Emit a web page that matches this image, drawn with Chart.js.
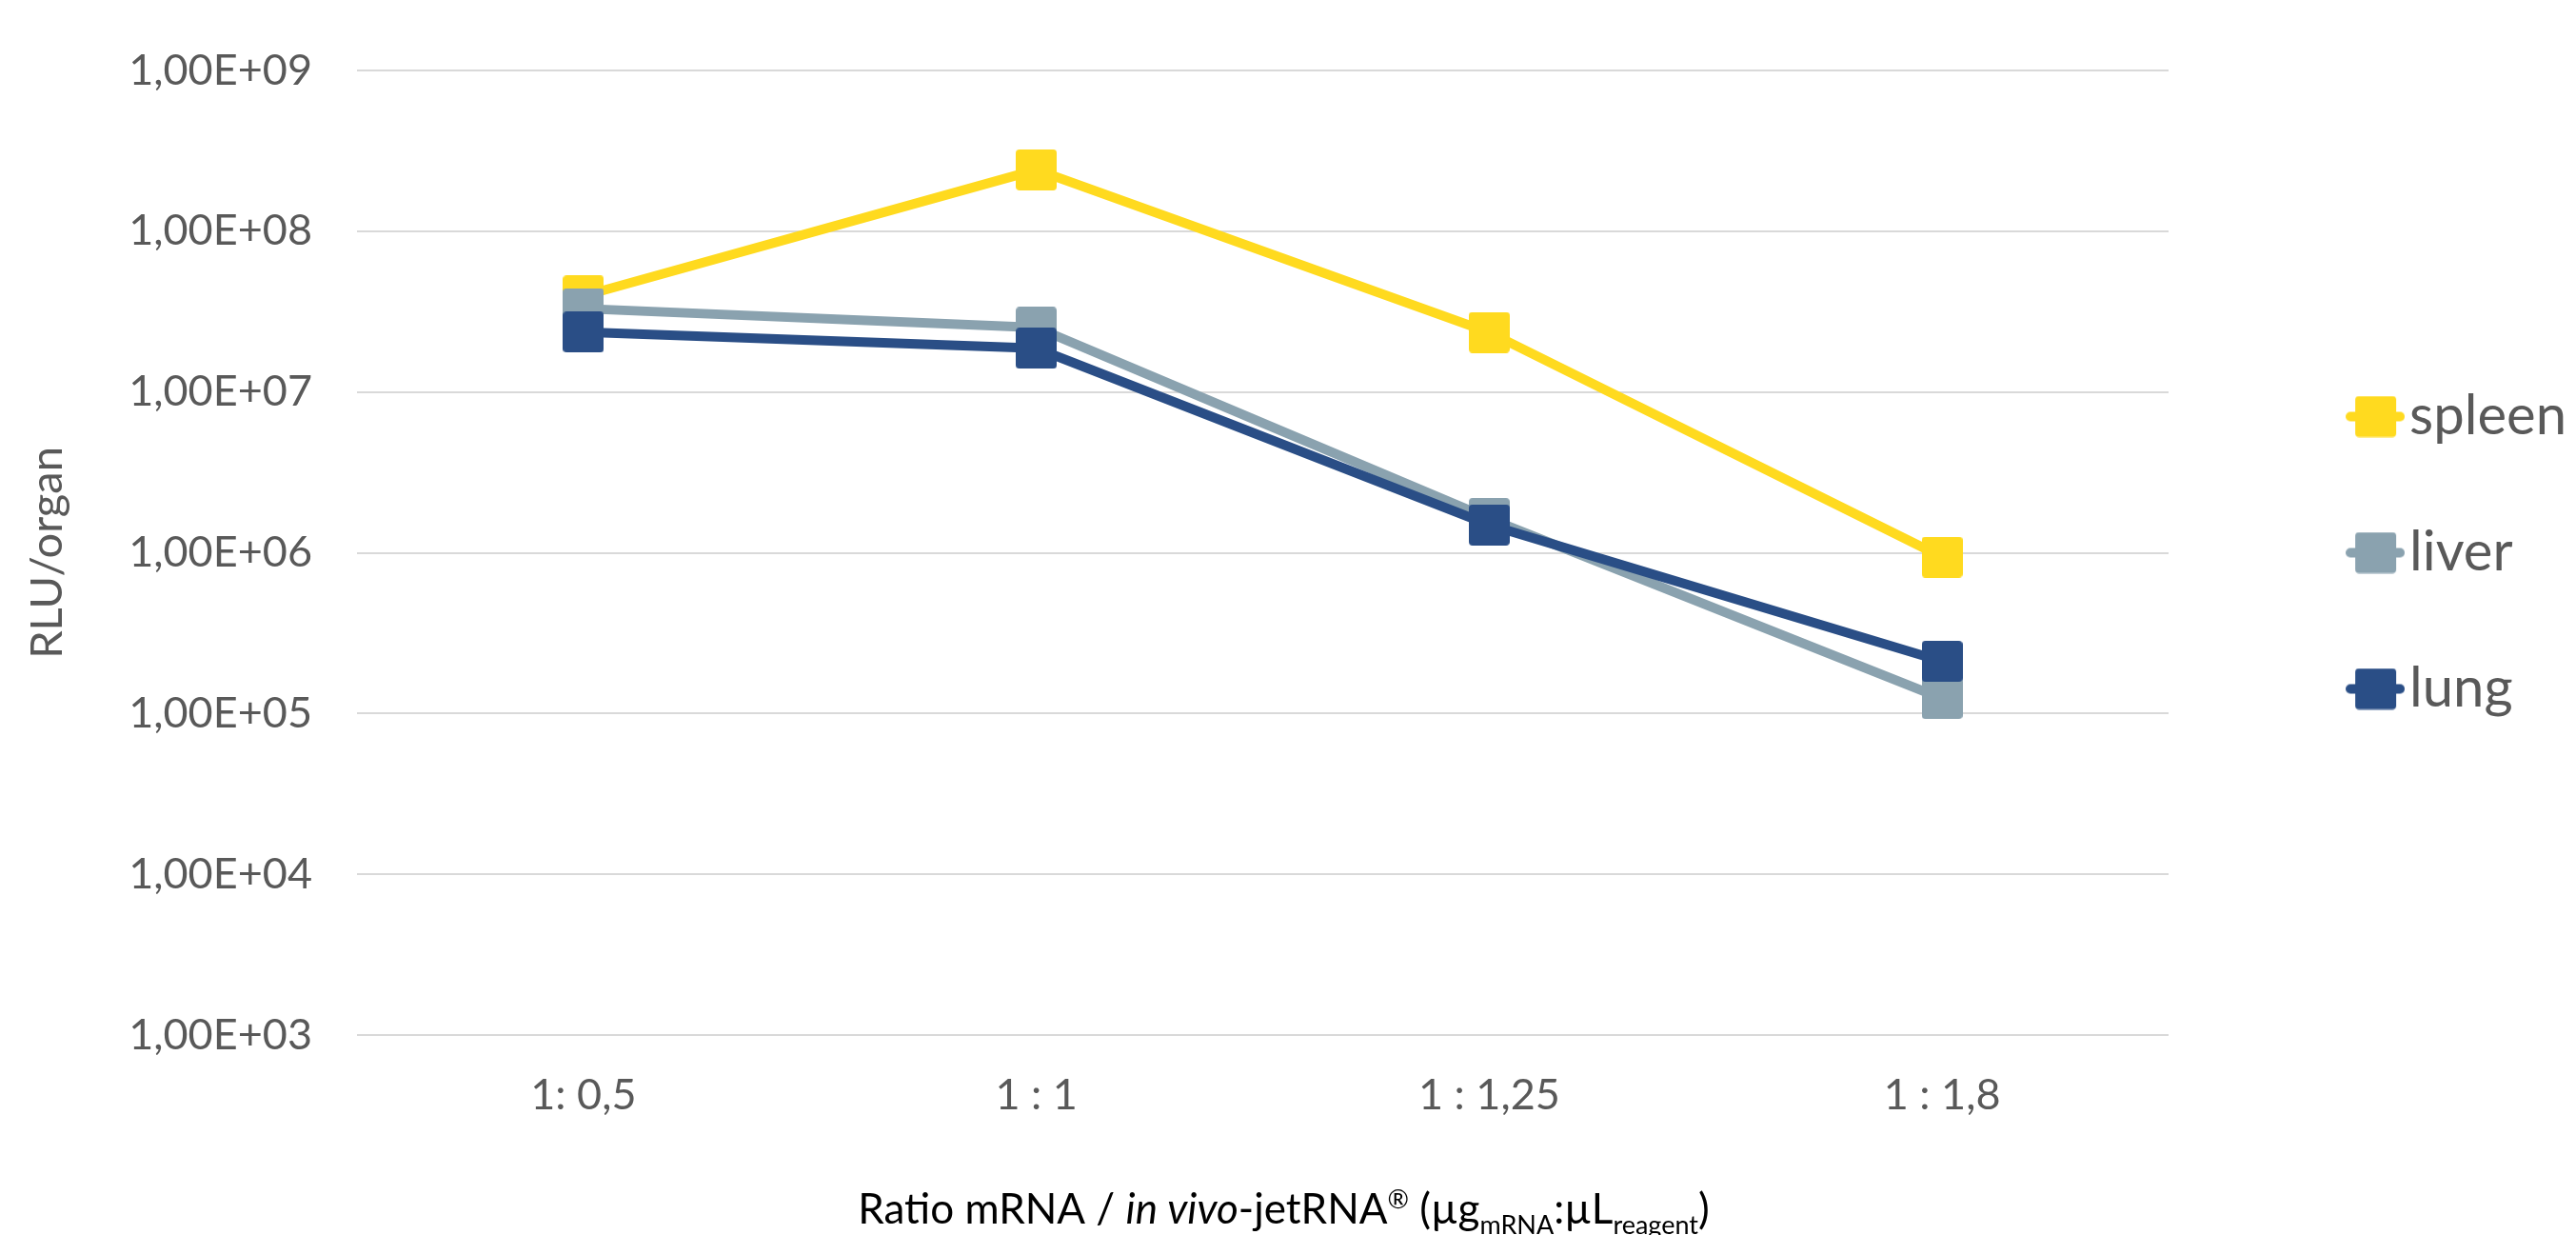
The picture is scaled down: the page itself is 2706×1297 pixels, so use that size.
<!DOCTYPE html>
<html lang="en">
<head>
<meta charset="utf-8">
<title>RLU per organ</title>
<style>
  html, body { margin: 0; padding: 0; background: #fff; }
  #wrap { width: 2706px; height: 1297px; }
</style>
</head>
<body>
<div id="wrap"><canvas id="myChart"></canvas></div>

<script src="https://cdn.jsdelivr.net/npm/chart.js"></script>
<script>
  // values
  const categories = ['1: 0,5', '1 : 1', '1 : 1,25', '1 : 1,8'];
  const seriesNames = ['spleen', 'liver', 'lung'];
  const spleen = [3.96e7, 2.41e8, 2.35e7, 9.4e5];
  const liver  = [3.30e7, 2.52e7, 1.63e6, 1.24e5];
  const lung   = [2.36e7, 1.87e7, 1.49e6, 2.11e5];
  const yTicks = [1e3, 1e4, 1e5, 1e6, 1e7, 1e8, 1e9];

  const colors = ['#FFDA1F', '#8AA2AF', '#2A4E86'];
  const FONT = 'Lato';
  const LEGEND_SIZE = 58;

  function sci(v) {
    const e = Math.round(Math.log10(v));
    const m = v / Math.pow(10, e);
    return m.toFixed(2).replace('.', ',') + 'E' + (e >= 0 ? '+' : '-') + String(Math.abs(e)).padStart(2, '0');
  }

  function roundRect(g, x, y, w, h, r) {
    g.beginPath();
    g.moveTo(x + r, y);
    g.lineTo(x + w - r, y);
    g.quadraticCurveTo(x + w, y, x + w, y + r);
    g.lineTo(x + w, y + h - r);
    g.quadraticCurveTo(x + w, y + h, x + w - r, y + h);
    g.lineTo(x + r, y + h);
    g.quadraticCurveTo(x, y + h, x, y + h - r);
    g.lineTo(x, y + r);
    g.quadraticCurveTo(x, y, x + r, y);
    g.closePath();
  }

  // square marker used on the lines
  function markerImg(color) {
    const c = document.createElement('canvas');
    c.width = 43; c.height = 43;
    const g = c.getContext('2d');
    g.fillStyle = color;
    roundRect(g, 0, 0, 43, 43, 4);
    g.fill();
    return c;
  }

  // marker + short line for the legend
  function legendImg(color) {
    const c = document.createElement('canvas');
    c.width = 62; c.height = 44;
    const g = c.getContext('2d');
    g.strokeStyle = color;
    g.lineWidth = 10;
    g.lineCap = 'round';
    g.beginPath();
    g.moveTo(5, 22);
    g.lineTo(57, 22);
    g.stroke();
    g.fillStyle = color;
    roundRect(g, 10, 0.5, 43, 43, 4);
    g.fill();
    return c;
  }

  const markers = colors.map(markerImg);
  const legendMarkers = colors.map(legendImg);
  const values = [spleen, liver, lung];

  // rich x axis title (italic part, superscript, subscripts)
  const xTitleRuns = [
    {t: 'Ratio mRNA / ', s: 'n'},
    {t: 'in vivo', s: 'i'},
    {t: '-jetRNA', s: 'n'},
    {t: '®', s: 'sup'},
    {t: ' (µg', s: 'n'},
    {t: 'mRNA', s: 'sub'},
    {t: ':µL', s: 'n'},
    {t: 'reagent', s: 'sub'},
    {t: ')', s: 'n'}
  ];

  const xTitlePlugin = {
    id: 'xTitle',
    afterDraw(chart) {
      const ctx = chart.ctx;
      const xs = chart.scales.x;
      const size = 44;
      const fontOf = (s) => {
        if (s === 'i') return 'italic ' + size + 'px ' + FONT;
        if (s === 'sup' || s === 'sub') return Math.round(size * 0.62) + 'px ' + FONT;
        return size + 'px ' + FONT;
      };
      ctx.save();
      let total = 0;
      xTitleRuns.forEach(r => { ctx.font = fontOf(r.s); r.w = ctx.measureText(r.t).width; total += r.w; });
      const area = chart.chartArea;
      let x = (area.left + area.right) / 2 + 22 - total / 2;
      const base = xs.top + 198;
      ctx.fillStyle = '#000000';
      ctx.textBaseline = 'alphabetic';
      ctx.textAlign = 'left';
      xTitleRuns.forEach(r => {
        ctx.font = fontOf(r.s);
        let y = base;
        if (r.s === 'sup') y = base - size * 0.36;
        if (r.s === 'sub') y = base + size * 0.24;
        ctx.fillText(r.t, x, y);
        x += r.w;
      });
      ctx.restore();
    }
  };

  const ctx = document.getElementById('myChart');

  const chart = new Chart(ctx, {
    type: 'line',
    data: {
      labels: categories,
      datasets: seriesNames.map((name, i) => ({
        label: name,
        data: values[i],
        borderColor: colors[i],
        backgroundColor: colors[i],
        borderWidth: 10,
        pointStyle: markers[i],
        pointRadius: 21,
        pointHoverRadius: 21,
        tension: 0,
        order: 3 - i
      }))
    },
    plugins: [xTitlePlugin],
    options: {
      responsive: true,
      maintainAspectRatio: false,
      animation: false,
      layout: { padding: { top: 72, left: 18, right: 0, bottom: 0 } },
      plugins: {
        tooltip: { enabled: false },
        legend: {
          position: 'right',
          fullSize: false,
          labels: {
            usePointStyle: true,
            pointStyleWidth: 14,
            padding: 85,
            color: '#595959',
            font: { family: FONT, size: LEGEND_SIZE },
            generateLabels: () => seriesNames.map((n, i) => ({
              text: n,
              fillStyle: colors[i],
              strokeStyle: colors[i],
              lineWidth: 0,
              pointStyle: legendMarkers[i],
              fontColor: '#595959',
              datasetIndex: i,
              hidden: false
            }))
          }
        }
      },
      scales: {
        x: {
          type: 'category',
          offset: true,
          grid: { display: false, drawTicks: false },
          border: { display: false },
          ticks: {
            color: '#595959',
            font: { family: FONT, size: 45 },
            padding: 36
          },
          afterFit: (s) => { s.height = 210; }
        },
        y: {
          type: 'logarithmic',
          position: 'left',
          min: 1e3,
          max: 1e9,
          grid: { color: '#D9D9D9', lineWidth: 2, drawTicks: false },
          border: { display: false },
          afterBuildTicks: (axis) => { axis.ticks = yTicks.map(v => ({value: v})); },
          ticks: {
            color: '#595959',
            font: { family: FONT, size: 45 },
            padding: 47,
            autoSkip: false,
            callback: (v) => sci(v)
          },
          title: {
            display: true,
            text: 'RLU/organ',
            color: '#595959',
            font: { family: FONT, size: 47 },
            padding: { top: 4, bottom: 0 }
          },
          afterFit: (s) => { s.width = 357; }
        },
        // empty axis that keeps the gap between the plot and the legend
        yR: {
          type: 'linear',
          position: 'right',
          display: true,
          grid: { display: false, drawTicks: false },
          border: { display: false },
          ticks: { display: false },
          afterFit: (s) => {
            const g = s.ctx;
            g.save();
            g.font = LEGEND_SIZE + 'px ' + FONT;
            const tw = Math.max(...seriesNames.map(n => g.measureText(n).width));
            g.restore();
            s.width = 2706 - (85 + 14 + LEGEND_SIZE / 2 + tw + 10) - 2278;
          }
        }
      }
    }
  });
</script>
</body>
</html>
